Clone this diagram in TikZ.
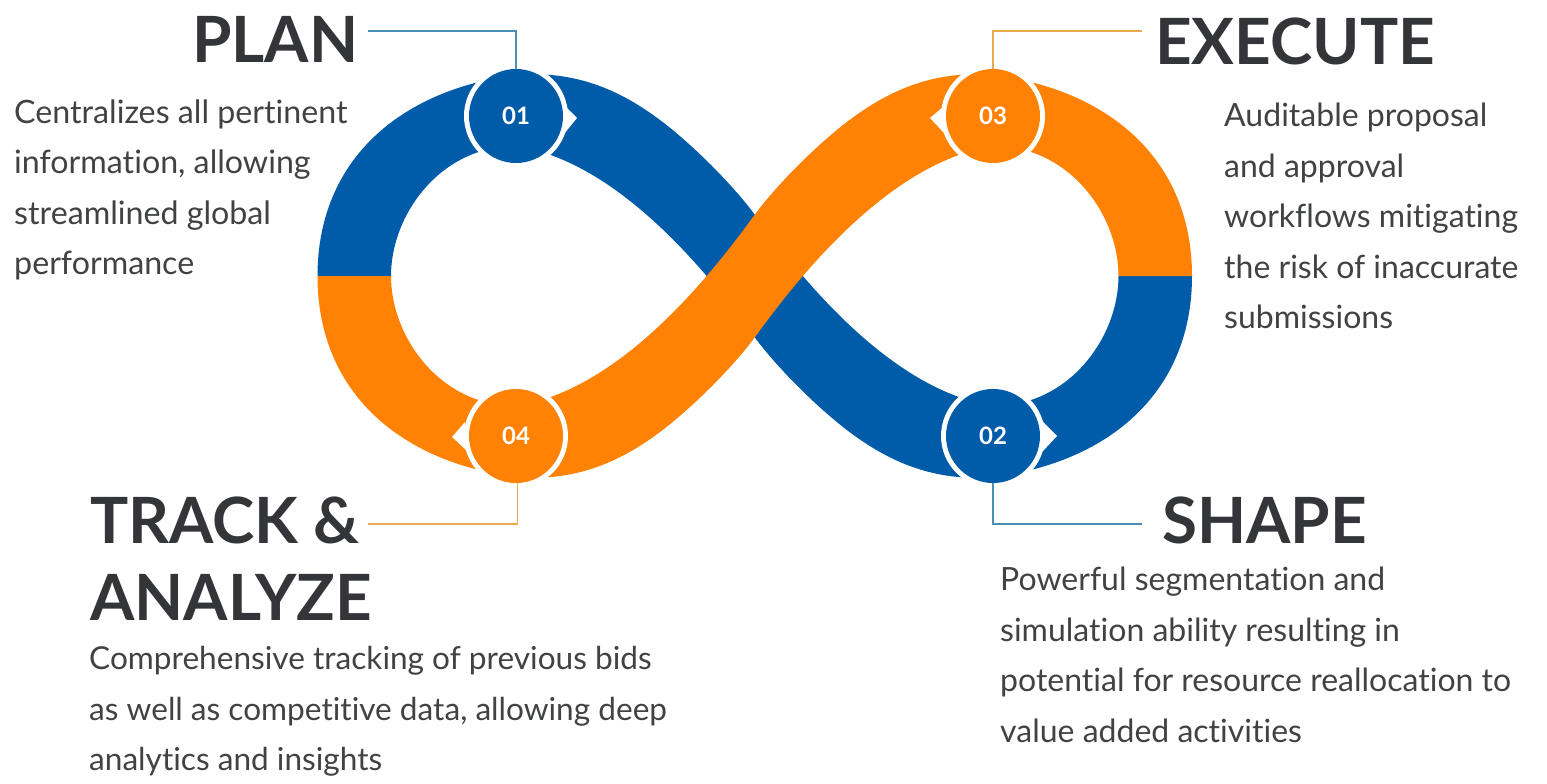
\documentclass[tikz,border=0pt]{standalone}
\usepackage{fontspec}
\setmainfont{Lato}[Ligatures=NoCommon]
\usetikzlibrary{calc}
\definecolor{bandblue}{HTML}{005CA9}
\definecolor{bandorange}{HTML}{FF8204}
\definecolor{leadblue}{HTML}{4A8DB5}
\definecolor{leadorange}{HTML}{E9A84E}
\definecolor{titlegrey}{HTML}{333538}
\definecolor{bodygrey}{HTML}{404244}
\def\bandpath{(317.5,276) .. controls (317.5,160) and (400,90) .. (516,75)
 .. controls (575,70) and (620,90) .. (660,120)
 .. controls (692,144) and (733,185) .. (755,215)
 .. controls (800,277) and (890,390) .. (993.5,406)
 .. controls (1069.5,406) and (1118.5,337) .. (1118.5,276)
 -- (1192,276)
 .. controls (1192,392) and (1109.5,462) .. (993.5,477)
 .. controls (934.5,482) and (889.5,462) .. (849.5,432)
 .. controls (817.5,408) and (776.5,367) .. (754.5,337)
 .. controls (709.5,275) and (619.5,162) .. (516,146)
 .. controls (440,146) and (391,215) .. (391,276) -- cycle}
\tikzset{
  disc/.style={circle,minimum size=94pt,inner sep=0pt,text=white,font=\fontsize{24}{26}\selectfont\bfseries},
  lead/.style={line width=1.3pt},
  titletext/.style={inner sep=0pt,text=titlegrey,font=\fontsize{63.8}{76}\selectfont\bfseries},
  bodytext/.style={inner sep=0pt,anchor=north west,align=left,text=bodygrey},
  bodyfont/.style={font=\fontsize{#1}{50.5}\selectfont},
}
\begin{document}
\begin{tikzpicture}[x=1pt,y=-1pt]
\useasboundingbox (0,0) rectangle (1547,784);
\fill[bandblue] \bandpath;
\begin{scope}[shift={(0,552)},yscale=-1]
\fill[bandorange] \bandpath;
\end{scope}
% white rings with pointers
\fill[white] (516,116) circle (52);
\fill[white] (993,116) circle (52);
\fill[white] (516,436) circle (52);
\fill[white] (993,436) circle (52);
\fill[white] (566,107) -- (577,118) -- (564,134) -- cycle;
\fill[white] (943,107) -- (930,118) -- (945,134) -- cycle;
\fill[white] (465,422) -- (452,437) -- (467,451) -- cycle;
\fill[white] (1043,422) -- (1057,436) -- (1043,451) -- cycle;
\node[disc,fill=bandblue] (c1) at (516,116) {\raisebox{-1.5pt}{01}};
\node[disc,fill=bandorange] (c3) at (993,116) {\raisebox{-1.5pt}{03}};
\node[disc,fill=bandorange] (c4) at (516,436) {\raisebox{-1.5pt}{04}};
\node[disc,fill=bandblue] (c2) at (993,436) {\raisebox{-1.5pt}{02}};
% leaders
\coordinate (l1) at (368,31);
\coordinate (l3) at (1142,31);
\coordinate (l4) at (368,524);
\coordinate (l2) at (1142,524);
\draw[lead,leadblue] (l1) -| (c1.north);
\draw[lead,leadorange] (l3) -| (c3.north);
\draw[lead,leadorange] (l4) -| ([xshift=1.5pt]c4.south);
\draw[lead,leadblue] (l2) -| (c2.south);
% titles
\node[titletext,anchor=base east] (tplan) at (358.5,63) {PLAN};
\node[titletext,anchor=base west] (texec) at (1155,65) {EXECUTE};
\node[titletext,anchor=base west] (ttrack) at (90,543) {TRACK \&};
\node[titletext,anchor=base west] (tanal) at (90,620) {ANALYZE};
\node[titletext,anchor=base west] (tshape) at (1162,543) {SHAPE};
% bodies
\node[bodytext,bodyfont=32.2] (bplan) at (14,99.5) {Centralizes all pertinent\\information, allowing\\streamlined global\\performance};
\node[bodytext,bodyfont=32] (bexec) at (1224,103) {Auditable proposal\\and approval\\workflows mitigating\\the risk of inaccurate\\submissions};
\node[bodytext,bodyfont=31.6] (btrack) at (89,646.5) {Comprehensive tracking of previous bids\\as well as competitive data, allowing deep\\analytics and insights};
\node[bodytext,bodyfont=32] (bshape) at (1000,567) {Powerful segmentation and\\simulation ability resulting in\\potential for resource reallocation to\\value added activities};
\end{tikzpicture}
\end{document}
